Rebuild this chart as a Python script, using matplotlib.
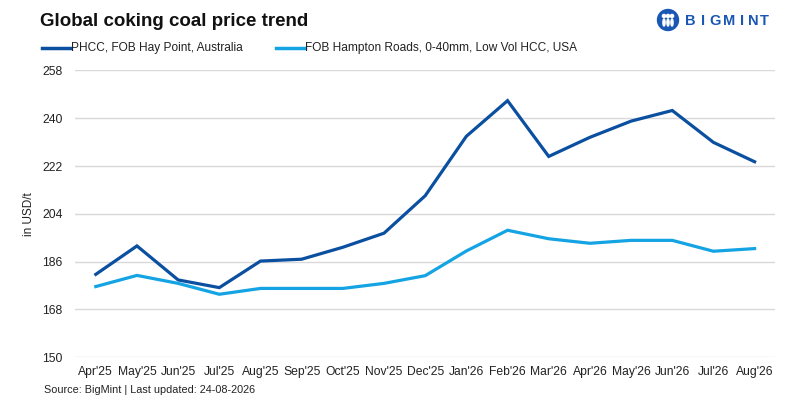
import matplotlib
matplotlib.use("Agg")
import matplotlib.pyplot as plt
from matplotlib.patches import Circle, Ellipse

months = ["Apr'25", "May'25", "Jun'25", "Jul'25", "Aug'25", "Sep'25", "Oct'25", "Nov'25",
          "Dec'25", "Jan'26", "Feb'26", "Mar'26", "Apr'26", "May'26", "Jun'26", "Jul'26", "Aug'26"]
phcc = [181.2, 191.9, 179.1, 176.2, 186.2, 186.9, 191.4, 196.7,
        210.8, 233.2, 246.6, 225.6, 232.8, 238.9, 242.9, 230.9, 223.6]
hampton = [176.6, 180.8, 177.8, 173.7, 175.9, 175.9, 175.9, 177.8,
           180.7, 190.0, 197.8, 194.6, 192.9, 194.0, 194.0, 189.9, 190.9]
yticks = [150, 168, 186, 204, 222, 240, 258]
series_names = ["PHCC, FOB Hay Point, Australia", "FOB Hampton Roads, 0-40mm, Low Vol HCC, USA"]

plt.rcParams['font.family'] = ['Liberation Sans', 'DejaVu Sans']

DARK = "#0b4fa0"
LIGHT = "#14a3e3"

fig = plt.figure(figsize=(8, 4), dpi=100)
ax = fig.add_axes([0.094, 0.107, 0.875, 0.717])

x = list(range(len(months)))
ax.plot(x, phcc, color=DARK, lw=2.3, solid_joinstyle='miter')
ax.plot(x, hampton, color=LIGHT, lw=2.3, solid_joinstyle='miter')

ax.set_xlim(-0.5, len(months) - 0.5)
ax.set_ylim(150, 258)
ax.set_yticks(yticks)
ax.set_yticklabels([str(v) for v in yticks], fontsize=8.7, color="#222222")
ax.set_xticks(x)
ax.set_xticklabels(months, fontsize=8.7, color="#222222")
ax.tick_params(axis='both', length=0)
ax.tick_params(axis='y', pad=9)
ax.tick_params(axis='x', pad=6)
ax.grid(axis='y', color="#d9d9d9", lw=1)
ax.set_axisbelow(True)
for s in ax.spines.values():
    s.set_visible(False)
ax.set_ylabel("in USD/t", fontsize=8.5, color="#222222", labelpad=5)

# Title
fig.text(40/800, 1 - 22/400, "Global coking coal price trend", fontsize=13.5, fontweight='bold',
         color="#111111", va='center', ha='left')

# Legend (manual)
leg_y = 1 - 48/400
fig.add_artist(plt.Line2D([42/800, 70/800], [leg_y, leg_y], color=DARK, lw=2.5, transform=fig.transFigure))
fig.text(71/800, leg_y, series_names[0], fontsize=8.6, color="#222222", va='center', ha='left')
fig.add_artist(plt.Line2D([276/800, 304/800], [leg_y, leg_y], color=LIGHT, lw=2.5, transform=fig.transFigure))
fig.text(305/800, leg_y, series_names[1], fontsize=8.6, color="#222222", va='center', ha='left')

# Source
fig.text(44/800, 1 - 390/400, "Source: BigMint | Last updated: 24-08-2026", fontsize=7.8,
         color="#222222", va='center', ha='left')

# Logo
LOGO = "#1a56b4"
lax = fig.add_axes([655/800, 1 - 32/400, 26/800, 24/400])
lax.set_xlim(0, 26)
lax.set_ylim(0, 24)
lax.set_aspect('equal')
lax.axis('off')
lax.add_patch(Circle((13, 12), 10.5, color=LOGO))
for cx in (9, 13, 17):
    lax.add_patch(Circle((cx, 16), 1.6, color="white"))
    lax.add_patch(Ellipse((cx, 9.5), 2.2, 7, color="white"))
logo_letters = "BIGMINT"
logo_centers = [690, 703, 715, 729, 742, 753, 764]
for ch, cx in zip(logo_letters, logo_centers):
    fig.text(cx/800, 1 - 21/400, ch, fontsize=10.5, fontweight='bold', color=LOGO,
             va='center', ha='center')

fig.savefig("out.png", dpi=100, facecolor="white")
